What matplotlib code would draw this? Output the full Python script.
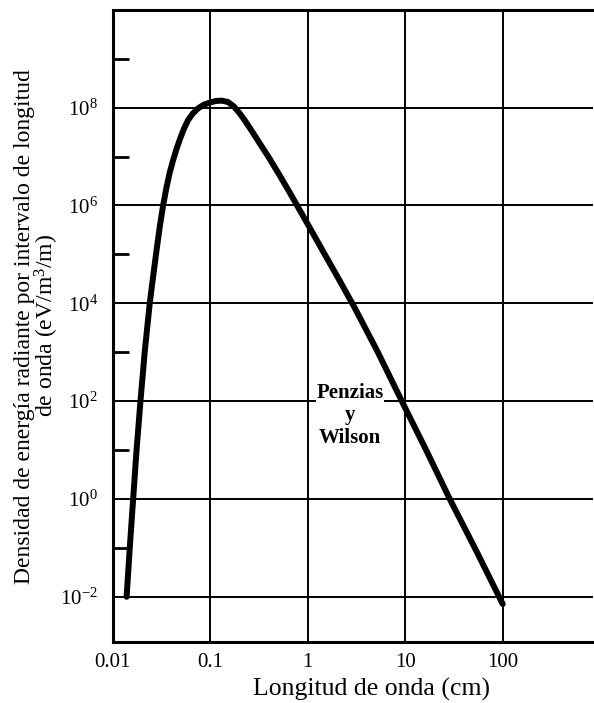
import matplotlib
matplotlib.use("Agg")
import matplotlib.pyplot as plt
from matplotlib.ticker import FixedLocator, FixedFormatter, LogFormatterMathtext, NullFormatter

plt.rcParams["font.family"] = ["Liberation Serif", "DejaVu Serif"]
plt.rcParams["mathtext.fontset"] = "custom"
plt.rcParams["mathtext.rm"] = "Liberation Serif"
plt.rcParams["mathtext.it"] = "Liberation Serif:italic"
plt.rcParams["mathtext.bf"] = "Liberation Serif:bold"

# curve: wavelength (cm) vs energy density (eV/m^3/m)
wavelength = [0.01384, 0.01493, 0.01615, 0.0175, 0.0192, 0.0213, 0.0239,
              0.0259, 0.02806, 0.03034, 0.0328, 0.03555, 0.03842, 0.04154,
              0.04499, 0.04865, 0.05346, 0.0592, 0.06613, 0.07496, 0.08576,
              0.09883, 0.1139, 0.1312, 0.1512, 0.1742, 0.2008, 0.2259,
              0.2542, 0.322, 0.4076, 0.5163, 0.6535, 0.8279, 1.048, 1.494,
              2.129, 3.034, 5.224, 9.36, 16.5, 28.6, 53.7, 100.0]
density = [1.0e-2, 1.05e-1, 1.0e0, 1.0e1, 1.0e2, 1.1e3, 1.0e4,
           3.56e4, 1.21e5, 3.77e5, 1.01e6, 2.37e6, 4.81e6, 8.47e6,
           1.43e7, 2.23e7, 3.66e7, 5.59e7, 7.6e7, 9.7e7, 1.15e8,
           1.27e8, 1.37e8, 1.39e8, 1.31e8, 1.06e8, 7.6e7, 5.47e7,
           3.84e7, 1.85e7, 8.9e6, 4.08e6, 1.83e6, 8.0e5, 3.5e5, 1.0e5,
           2.88e4, 8.05e3, 1.01e3, 94.0, 9.7, 1.0, 0.086, 7.1e-3]

x_ticks = [0.01, 0.1, 1, 10, 100]
x_labels = ["0.01", "0.1", "1", "10", "100"]
y_ticks = [1e-2, 1e0, 1e2, 1e4, 1e6, 1e8]
y_minor = [1e-1, 1e1, 1e3, 1e5, 1e7, 1e9]

fig = plt.figure(figsize=(5.94, 7.03), dpi=100)
ax = fig.add_axes([0.190, 0.087, 0.808, 0.899])

ax.plot(wavelength, density, color="black", lw=4.3, solid_capstyle="round",
        solid_joinstyle="round", zorder=3)

ax.set_xscale("log")
ax.set_yscale("log")
ax.set_xlim(0.01, 840)
ax.set_ylim(1.2e-3, 1e10)

ax.xaxis.set_major_locator(FixedLocator(x_ticks))
ax.xaxis.set_major_formatter(FixedFormatter(x_labels))
ax.xaxis.set_minor_locator(FixedLocator([]))
ax.yaxis.set_major_locator(FixedLocator(y_ticks))
ax.yaxis.set_major_formatter(LogFormatterMathtext())
ax.yaxis.set_minor_locator(FixedLocator(y_minor))
ax.yaxis.set_minor_formatter(NullFormatter())

ax.tick_params(axis="both", which="major", length=0, labelsize=15)
ax.tick_params(axis="x", which="major", pad=8)
ax.tick_params(axis="y", which="major", pad=11)
ax.tick_params(axis="y", which="minor", direction="in", length=11.5, width=2)

ax.grid(True, which="major", color="black", lw=1.4)
ax.set_axisbelow(True)

for side in ["left", "bottom", "top"]:
    ax.spines[side].set_linewidth(2.2)
ax.spines["right"].set_visible(False)

ax.text(2.7, 51, "Penzias\ny\nWilson", ha="center", va="center",
        fontsize=15, fontweight="bold", linespacing=1.15,
        bbox=dict(facecolor="white", edgecolor="none", pad=0.5), zorder=2)

fig.text(0.626, 0.019, "Longitud de onda (cm)", ha="center", va="center",
         fontsize=18.5)
fig.text(0.042, 0.535, "Densidad de energía radiante por intervalo de longitud",
         rotation=90, ha="center", va="center", fontsize=17)
fig.text(0.079, 0.537, "de onda (eV/m$^3$/m)", rotation=90, ha="center",
         va="center", fontsize=17)

fig.savefig("out.png", dpi=100)
plt.close(fig)
